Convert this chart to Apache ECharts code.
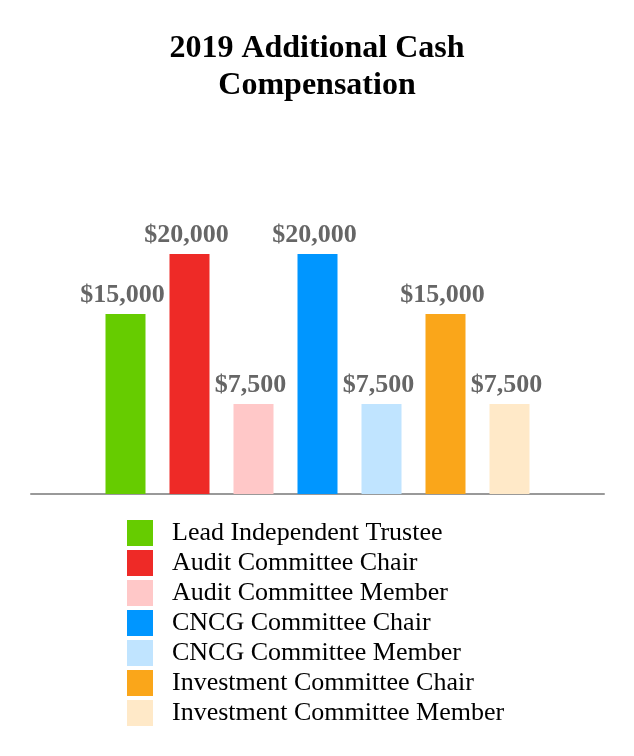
<!DOCTYPE html>
<html><head><meta charset="utf-8">
<script src="https://cdn.jsdelivr.net/npm/echarts@6/dist/echarts.min.js"></script>
<style>html,body{margin:0;padding:0;background:#fff}#c{width:634px;height:756px}</style>
</head><body><div id="c"></div>
<script>
const categories = ['2019'];
const seriesNames = ['Lead Independent Trustee','Audit Committee Chair','Audit Committee Member','CNCG Committee Chair','CNCG Committee Member','Investment Committee Chair','Investment Committee Member'];
const values = [15000, 20000, 7500, 20000, 7500, 15000, 7500];
const colors = ['#66cc00','#ee2a27','#ffc8c8','#0096ff','#c0e4ff','#faa61a','#ffe9c8'];

const chart = echarts.init(document.getElementById('c'));
chart.setOption({
  animation: false,
  title: {
    text: '2019 Additional Cash\nCompensation',
    left: 'center', top: 25,
    textStyle: {fontFamily: 'Liberation Serif', fontWeight: 'bold', fontSize: 32, color: '#000', lineHeight: 37}
  },
  legend: {
    orient: 'vertical', left: 127, top: 520, padding: 0,
    itemWidth: 26, itemHeight: 26, itemGap: 4,
    icon: 'rect',
    textStyle: {fontFamily: 'Liberation Serif', fontSize: 26, color: '#000', padding: [0,0,0,14]},
    data: seriesNames
  },
  grid: {left: 31, right: 30, top: 254, bottom: 262},
  xAxis: {
    type: 'category', data: categories,
    axisLine: {lineStyle: {color: '#999', width: 2}},
    axisTick: {show: false}, axisLabel: {show: false}
  },
  yAxis: {type: 'value', min: 0, max: 20000, show: false, splitLine: {show: false}},
  series: seriesNames.map((n, i) => ({
    name: n, type: 'bar', data: [values[i]],
    barWidth: 40, barGap: '60%',
    itemStyle: {color: colors[i]},
    label: {
      show: true, position: 'top', distance: 6, offset: [-3, 0],
      formatter: p => '$' + p.value.toLocaleString('en-US'),
      fontFamily: 'Liberation Serif', fontWeight: 'bold', fontSize: 26, color: '#666'
    }
  }))
});
</script></body></html>
